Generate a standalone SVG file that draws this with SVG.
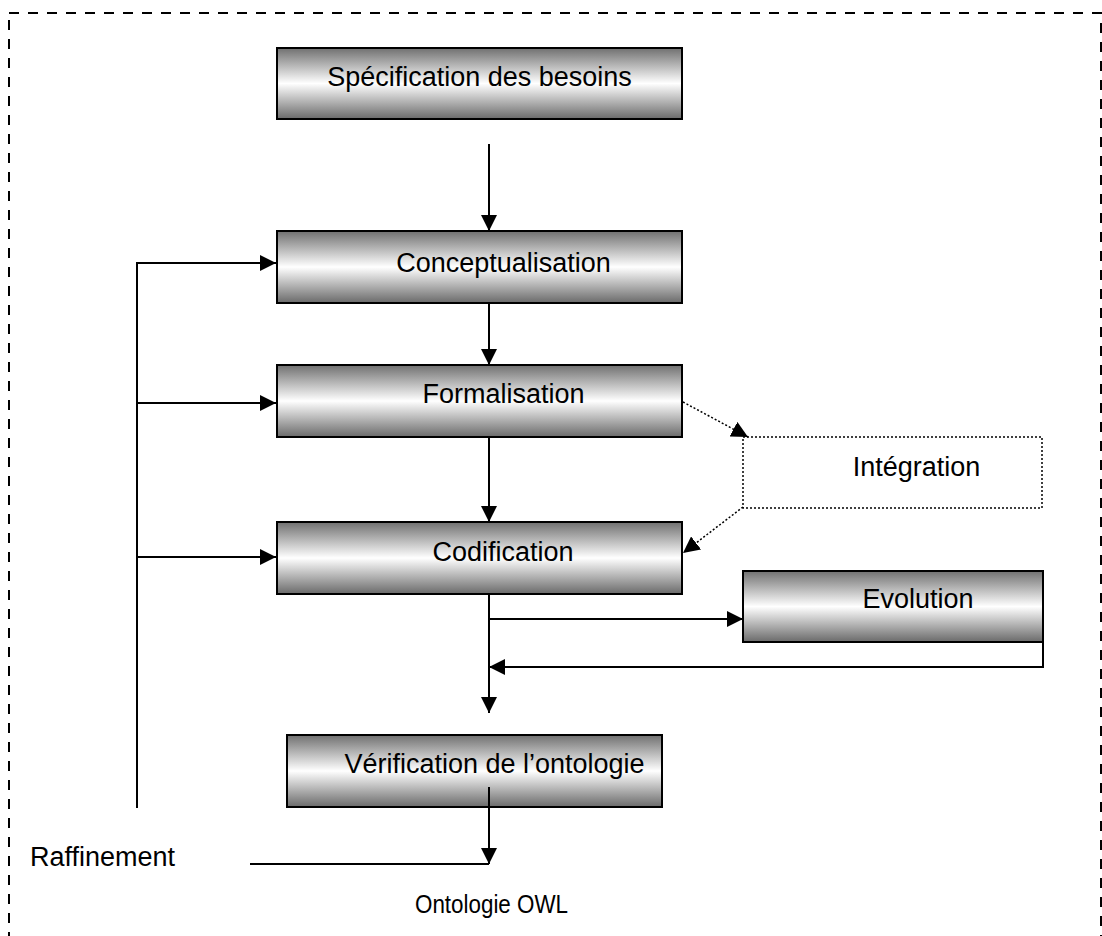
<svg xmlns="http://www.w3.org/2000/svg" width="1102" height="936" viewBox="0 0 1102 936">
<style>
.box{fill:url(#g);stroke:#000;stroke-width:2}
.lbl{font-family:"Liberation Sans",Arial,sans-serif;font-size:27px;fill:#000}
.c{text-anchor:middle}
.ln{fill:none;stroke:#000;stroke-width:2}
.dot{fill:none;stroke:#000;stroke-width:1.5;stroke-dasharray:2 2}
</style>
<defs>
<linearGradient id="g" x1="0" y1="0" x2="0" y2="1">
<stop offset="0" stop-color="#707070"/>
<stop offset="0.5" stop-color="#ffffff"/>
<stop offset="1" stop-color="#6a6a6a"/>
</linearGradient>
<marker id="a" viewBox="0 0 10 10" refX="10" refY="5" markerWidth="8" markerHeight="8" markerUnits="strokeWidth" orient="auto">
<path d="M0,0 L10,5 L0,10 z" fill="#000"/>
</marker>
<marker id="ad" viewBox="0 0 10 10" refX="10" refY="5" markerWidth="11" markerHeight="11" markerUnits="strokeWidth" orient="auto">
<path d="M0,0 L10,5 L0,10 z" fill="#000"/>
</marker>
</defs>
<rect x="9" y="13" width="1092" height="940" fill="none" stroke="#000" stroke-width="2" stroke-dasharray="10 9"/>
<g id="specification">
<rect class="box" x="277" y="48" width="405" height="71"/>
<text class="lbl c" x="479.5" y="86">Spécification des besoins</text>
</g>
<g id="conceptualisation">
<rect class="box" x="277" y="231" width="405" height="72"/>
<text class="lbl c" x="503.5" y="272">Conceptualisation</text>
</g>
<g id="formalisation">
<rect class="box" x="277" y="365" width="405" height="72"/>
<text class="lbl c" x="503.5" y="403">Formalisation</text>
</g>
<g id="codification">
<rect class="box" x="277" y="522" width="405" height="72"/>
<text class="lbl c" x="503" y="561">Codification</text>
</g>
<g id="integration">
<rect x="743" y="437" width="299" height="71" fill="#fff" stroke="#000" stroke-width="1.5" stroke-dasharray="2 2"/>
<text class="lbl c" x="916.5" y="476">Intégration</text>
</g>
<g id="evolution">
<rect class="box" x="743" y="571" width="300" height="71"/>
<text class="lbl c" x="918" y="608">Evolution</text>
</g>
<g id="verification">
<rect class="box" x="287" y="735" width="375" height="72"/>
<text class="lbl c" x="494.5" y="773">Vérification de l’ontologie</text>
</g>
<g id="raffinement">
<text class="lbl" x="30" y="866">Raffinement</text>
</g>
<g id="ontologie-owl">
<text class="lbl c" x="491.5" y="913" style="font-size:25px" textLength="153" lengthAdjust="spacingAndGlyphs">Ontologie OWL</text>
</g>
<g id="connectors">
<line class="ln" x1="489" y1="144" x2="489" y2="231" marker-end="url(#a)"/>
<line class="ln" x1="489" y1="303" x2="489" y2="365" marker-end="url(#a)"/>
<line class="ln" x1="489" y1="437" x2="489" y2="522" marker-end="url(#a)"/>
<line class="ln" x1="489" y1="594" x2="489" y2="713" marker-end="url(#a)"/>
<line class="ln" x1="489" y1="619" x2="743" y2="619" marker-end="url(#a)"/>
<polyline class="ln" points="1043,642 1043,667 489,667" marker-end="url(#a)"/>
<polyline class="ln" points="137,808 137,263 276,263" marker-end="url(#a)"/>
<line class="ln" x1="137" y1="403" x2="276" y2="403" marker-end="url(#a)"/>
<line class="ln" x1="137" y1="557" x2="276" y2="557" marker-end="url(#a)"/>
<line class="ln" x1="489" y1="787" x2="489" y2="864" marker-end="url(#a)"/>
<line class="ln" x1="250" y1="864" x2="489" y2="864"/>
<line class="dot" x1="683" y1="402" x2="748" y2="437" marker-end="url(#ad)"/>
<line class="dot" x1="743" y1="507" x2="683" y2="553" marker-end="url(#ad)"/>
</g>
</svg>
